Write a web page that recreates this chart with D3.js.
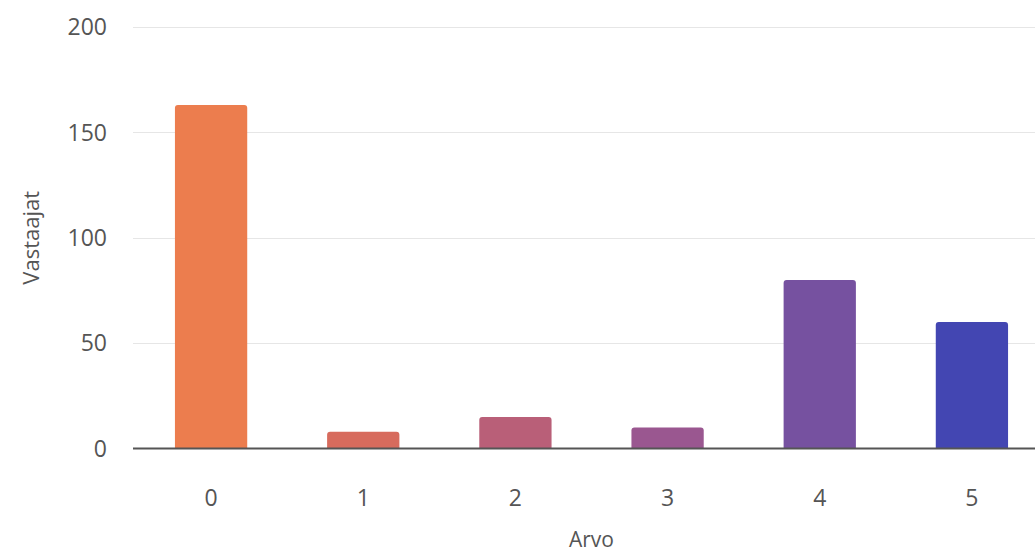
<!DOCTYPE html>
<html><head><meta charset="utf-8">
<script src="https://cdn.jsdelivr.net/npm/d3@7"></script>
<style>
html,body{margin:0;padding:0;background:#fff;overflow:hidden;}
text{font-family:"Open Sans","Noto Sans",sans-serif;}
</style></head>
<body>
<svg id="c" width="1035" height="554"></svg>
<script>
const categories = ["0","1","2","3","4","5"];
const values = [163, 8, 15, 10, 80, 60];
const colors = ["#EC7D4E","#D76B5D","#B95F78","#9A5790","#7651A0","#4346B2"];
const yTicks = [0,50,100,150,200];
const xTitle = "Arvo";
const yTitle = "Vastaajat";

const svg = d3.select("#c");
const W = 1035, H = 554;
const plotLeft = 135, plotRight = 1048, plotTop = 27, plotBottom = 448.5;
const x = d3.scaleBand().domain(categories).range([plotLeft, plotRight]).paddingInner(0.525).paddingOuter(0.2625);
const y = d3.scaleLinear().domain([0,200]).range([plotBottom, plotTop]);

// gridlines
svg.append("g").selectAll("line").data(yTicks.filter(d=>d>0)).join("line")
  .attr("x1", 133).attr("x2", W)
  .attr("y1", d=>Math.round(y(d))+0.5).attr("y2", d=>Math.round(y(d))+0.5)
  .attr("stroke","#e6e6e6").attr("stroke-width",1);

// y tick labels
svg.append("g").selectAll("text").data(yTicks).join("text")
  .attr("x", 107).attr("y", d=>y(d)).attr("dy","0.36em")
  .attr("text-anchor","end").attr("font-size",23).attr("fill","#555")
  .text(d=>d);

// bars with rounded top corners
const r = 3;
svg.append("g").selectAll("path").data(values).join("path")
  .attr("fill",(d,i)=>colors[i])
  .attr("d",(d,i)=>{
    const x0 = x(categories[i]), w = x.bandwidth(), y0 = y(0), y1 = y(d);
    return `M${x0},${y0}V${y1+r}Q${x0},${y1} ${x0+r},${y1}H${x0+w-r}Q${x0+w},${y1} ${x0+w},${y1+r}V${y0}Z`;
  });

// x axis line
svg.append("line").attr("x1",133).attr("x2",W).attr("y1",y(0)).attr("y2",y(0))
  .attr("stroke","#555").attr("stroke-width",2);

// x tick labels
svg.append("g").selectAll("text").data(categories).join("text")
  .attr("x", d=>x(d)+x.bandwidth()/2).attr("y", 506)
  .attr("text-anchor","middle").attr("font-size",23).attr("fill","#555")
  .text(d=>d);

// axis titles
svg.append("text").attr("x",(plotLeft + plotRight)/2).attr("y",547)
  .attr("text-anchor","middle").attr("font-size",21).attr("fill","#555").text(xTitle);
svg.append("text").attr("transform",`translate(39,${(y(0)+y(200))/2}) rotate(-90)`)
  .attr("text-anchor","middle").attr("font-size",22).attr("fill","#555").text(yTitle);
</script>
</body></html>
